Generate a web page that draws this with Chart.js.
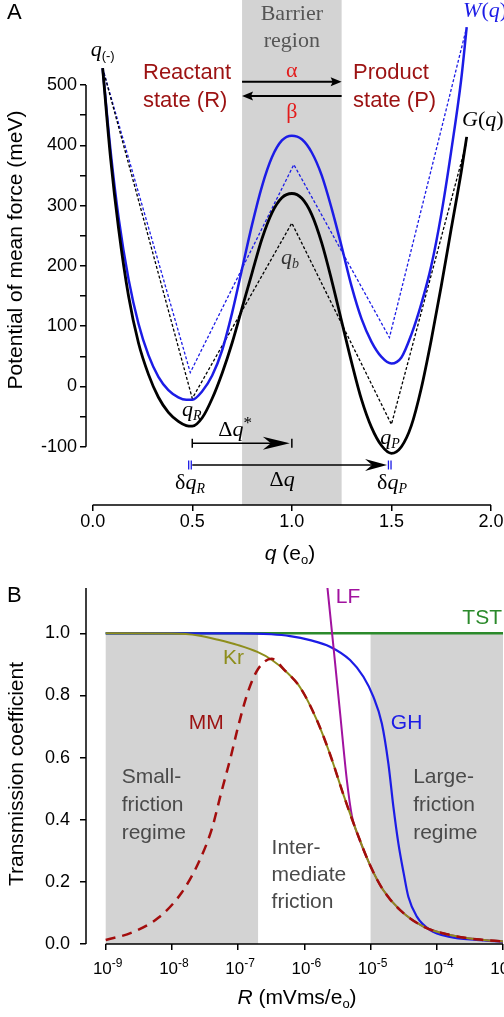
<!DOCTYPE html>
<html><head><meta charset="utf-8">
<script src="https://cdn.jsdelivr.net/npm/chart.js@4"></script>
<style>
html,body{margin:0;padding:0;background:#fff;overflow:hidden;width:504px;height:1017px;position:relative;}
#ca{position:absolute;left:0;top:0;}
#cb{position:absolute;left:0;top:570px;}
</style></head><body>
<canvas id="ca" width="504" height="570"></canvas>
<canvas id="cb" width="560" height="447"></canvas>
<script>
// ---------------- Panel A data ----------------
const qG = [0.05, 0.09, 0.13, 0.18, 0.23, 0.28, 0.33, 0.38, 0.43, 0.47, 0.5, 0.55, 0.6, 0.65, 0.7, 0.75, 0.8, 0.85, 0.9, 0.95, 1.0, 1.05, 1.1, 1.15, 1.2, 1.25, 1.3, 1.35, 1.4, 1.45, 1.5, 1.55, 1.6, 1.65, 1.7, 1.75, 1.8, 1.85, 1.878];
const G  = [528, 378, 262, 150, 72, 20, -18, -43, -58, -65, -66, -52, -20, 22, 72, 130, 188, 245, 288, 313, 320, 312, 285, 238, 176, 108, 40, -22, -68, -98, -111, -100, -65, -3, 77, 166, 261, 355, 414];
const qW = [0.05, 0.09, 0.13, 0.18, 0.23, 0.28, 0.33, 0.38, 0.43, 0.47, 0.5, 0.55, 0.6, 0.65, 0.7, 0.75, 0.8, 0.85, 0.9, 0.95, 1.0, 1.05, 1.1, 1.15, 1.2, 1.25, 1.3, 1.35, 1.4, 1.45, 1.5, 1.55, 1.6, 1.65, 1.7, 1.75, 1.8, 1.85, 1.878];
const W  = [528, 390, 280, 178, 104, 52, 16, -6, -18, -22, -22, -8, 18, 60, 122, 195, 268, 332, 380, 408, 416, 410, 388, 350, 295, 232, 166, 112, 74, 49, 38, 48, 86, 137, 200, 285, 390, 508, 596];
const qGd = [0.05, 0.5, 1.0, 1.5, 1.875];
const Gd  = [528, -20, 271, -63, 402];
const qWd = [0.05, 0.49, 1.01, 1.49, 1.875];
const Wd  = [528, 23, 368, 81, 592];
const qTicks = [0, 0.5, 1.0, 1.5, 2.0];
const pmfTicks = [-100, -50, 0, 50, 100, 150, 200, 250, 300, 350, 400, 450, 500];
const barrier = [0.75, 1.25];

// ---------------- Panel B data ----------------
const R_GH = [1e-9, 1e-7, 3.16e-7, 6.1e-7, 1.22e-6, 2.44e-6, 4.9e-6, 7.8e-6, 1.1e-5, 1.48e-5, 1.86e-5, 2.21e-5, 2.63e-5, 3.16e-5, 3.72e-5, 5.0e-5, 7.9e-5, 1.58e-4, 3.98e-4, 1e-3];
const GH   = [1.0, 1.0, 0.997, 0.991, 0.978, 0.957, 0.914, 0.86, 0.796, 0.71, 0.58, 0.442, 0.324, 0.228, 0.152, 0.088, 0.045, 0.023, 0.013, 0.007];
const R_Kr = [1e-9, 1e-8, 2.5e-8, 5e-8, 1e-7, 1.95e-7, 3.2e-7, 5.1e-7, 8.7e-7, 1.55e-6, 2.45e-6, 3.9e-6, 6.2e-6, 1e-5, 1.55e-5, 2.8e-5, 6.3e-5, 1.58e-4, 4e-4, 1e-3];
const Kr   = [1.0, 0.999, 0.993, 0.979, 0.962, 0.94, 0.915, 0.88, 0.825, 0.72, 0.61, 0.48, 0.36, 0.25, 0.174, 0.109, 0.056, 0.029, 0.015, 0.008];
const R_MM = [1e-9, 2.5e-9, 6.3e-9, 1.4e-8, 2.5e-8, 4e-8, 5.6e-8, 7.9e-8, 1e-7, 1.4e-7, 2e-7, 3.2e-7, 5.1e-7, 8.7e-7, 1.55e-6, 2.45e-6, 3.9e-6, 6.2e-6, 1e-5, 1.55e-5, 2.8e-5, 6.3e-5, 1.58e-4, 4e-4, 1e-3];
const MM   = [0.013, 0.037, 0.085, 0.165, 0.26, 0.37, 0.49, 0.61, 0.70, 0.81, 0.885, 0.918, 0.88, 0.825, 0.72, 0.61, 0.48, 0.36, 0.25, 0.174, 0.109, 0.056, 0.029, 0.015, 0.008];
const R_LF = [2.2e-6, 2.75e-6, 3.47e-6, 4.37e-6, 5.25e-6, 6.3e-6, 1e-5, 1.55e-5, 2.8e-5, 6.3e-5, 1.58e-4, 4e-4, 1e-3];
const LF   = [1.16, 0.957, 0.742, 0.53, 0.41, 0.355, 0.25, 0.174, 0.109, 0.056, 0.029, 0.015, 0.008];
const R_TST = [1e-9, 1e-3];
const TST   = [1.0, 1.0];
const rTicks = [1e-9, 1e-8, 1e-7, 1e-6, 1e-5, 1e-4, 1e-3];
const rTickExp = ['-9', '-8', '-7', '-6', '-5', '-4', '-3'];
const kTicks = [0, 0.2, 0.4, 0.6, 0.8, 1.0];
const smallRegime = [1e-9, 2e-7];
const largeRegime = [1e-5, 1e-3];

// ---------------- styles ----------------
const SANS = '"Liberation Sans", Arial, sans-serif';
const SERIF = '"Liberation Serif", "Times New Roman", serif';
const BLUE = '#1c1ce6';
const DRED = '#9c1212';
const RED = '#e31b1b';
const GRAYTXT = '#4a4a4a';
Chart.defaults.font.family = SANS;
Chart.defaults.color = '#000';

const pts = (xs, ys) => xs.map((x, i) => ({x: x, y: ys[i]}));
const zeroPad = s => { s.paddingLeft = 0; s.paddingRight = 0; s.paddingTop = 0; s.paddingBottom = 0; };
const f = (size, fam, style) => (style ? style + ' ' : '') + size + 'px ' + fam;

function rich(ctx, x, y, parts, align) {
  let w = 0;
  const ws = parts.map(p => { ctx.font = p[1]; const m = ctx.measureText(p[0]).width; w += m; return m; });
  let cx = align === 'left' ? x : align === 'right' ? x - w : x - w / 2;
  ctx.textAlign = 'left';
  ctx.textBaseline = 'alphabetic';
  parts.forEach((p, i) => { ctx.font = p[1]; ctx.fillStyle = p[2]; ctx.fillText(p[0], cx, y + (p[3] || 0)); cx += ws[i]; });
}
function plain(ctx, txt, x, y, font, color, align) {
  ctx.font = font; ctx.fillStyle = color; ctx.textAlign = align || 'center'; ctx.textBaseline = 'middle';
  ctx.fillText(txt, x, y);
}
function head(ctx, tx, ty, dir, len, hw, notch) {
  ctx.beginPath();
  ctx.moveTo(tx, ty);
  ctx.lineTo(tx - dir * len, ty - hw);
  ctx.lineTo(tx - dir * notch, ty);
  ctx.lineTo(tx - dir * len, ty + hw);
  ctx.closePath();
  ctx.fill();
}
function vrot(ctx, txt, x, y, font) {
  ctx.save(); ctx.translate(x, y); ctx.rotate(-Math.PI / 2);
  ctx.font = font; ctx.fillStyle = '#000'; ctx.textAlign = 'center'; ctx.textBaseline = 'middle';
  ctx.fillText(txt, 0, 0); ctx.restore();
}

// ---------------- Panel A ----------------
const annotA = {
  id: 'annotA',
  beforeDatasetsDraw(c) {
    const {ctx, chartArea: a, scales: {x}} = c;
    ctx.save();
    ctx.fillStyle = '#d3d3d3';
    const x0 = x.getPixelForValue(barrier[0]), x1 = x.getPixelForValue(barrier[1]);
    ctx.fillRect(x0, 0, x1 - x0, a.bottom);
    ctx.restore();
  },
  afterDraw(c) {
    const {ctx, chartArea: a, scales: {x, y}} = c;
    const X = v => x.getPixelForValue(v), Y = v => y.getPixelForValue(v);
    ctx.save();
    ctx.strokeStyle = '#000'; ctx.lineWidth = 1.5;
    ctx.beginPath();
    ctx.moveTo(a.left, Y(pmfTicks[pmfTicks.length - 1])); ctx.lineTo(a.left, Y(pmfTicks[0]));
    ctx.moveTo(X(qTicks[0]), a.bottom); ctx.lineTo(X(qTicks[qTicks.length - 1]), a.bottom);
    ctx.stroke();

    plain(ctx, 'A', 7, 13, f(22, SANS), '#000', 'left');
    plain(ctx, 'Barrier', X(1.0), Y(617.8), f(22, SERIF), '#555', 'center');
    plain(ctx, 'region', X(1.0), Y(573), f(22, SERIF), '#555', 'center');
    plain(ctx, 'Reactant', X(0.2526), Y(519.9), f(22, SANS), DRED, 'left');
    plain(ctx, 'state (R)', X(0.2526), Y(473.5), f(22, SANS), DRED, 'left');
    plain(ctx, 'Product', X(1.3074), Y(519.9), f(22, SANS), DRED, 'left');
    plain(ctx, 'state (P)', X(1.3074), Y(473.5), f(22, SANS), DRED, 'left');
    plain(ctx, 'α', X(1.0), Y(523.2), f(22, SERIF), RED, 'center');
    plain(ctx, 'β', X(1.0), Y(455.2), f(22, SERIF), RED, 'center');
    ctx.fillStyle = '#000'; ctx.strokeStyle = '#000'; ctx.lineWidth = 2;
    let ya = Y(505.5), yb = Y(481.8);
    ctx.beginPath();
    ctx.moveTo(X(0.75), ya); ctx.lineTo(X(1.25) - 6, ya);
    ctx.moveTo(X(1.25), yb); ctx.lineTo(X(0.75) + 6, yb);
    ctx.stroke();
    head(ctx, X(1.25), ya, 1, 11, 4.5, 9);
    head(ctx, X(0.75), yb, -1, 11, 4.5, 9);

    const q22 = f(22, SERIF, 'italic'), s14 = f(14, SERIF, 'italic'), up22 = f(22, SERIF);
    rich(ctx, X(-0.01), Y(548), [['q', q22, '#000'], ['(-)', f(13, SANS), '#000', 4]], 'left');
    rich(ctx, X(1.86), Y(612.8), [['W', q22, BLUE], ['(', up22, BLUE], ['q', q22, BLUE], [')', up22, BLUE]], 'left');
    rich(ctx, X(1.855), Y(432), [['G', q22, '#000'], ['(', up22, '#000'], ['q', q22, '#000'], [')', up22, '#000']], 'left');
    rich(ctx, X(0.991), Y(203), [['q', q22, '#333'], ['b', s14, '#333', 4]], 'center');
    rich(ctx, X(0.497), Y(-48.4), [['q', q22, '#000'], ['R', s14, '#000', 4]], 'center');
    rich(ctx, X(1.493), Y(-95.6), [['q', q22, '#000'], ['P', s14, '#000', 4]], 'center');
    rich(ctx, X(0.715), Y(-82.3), [['Δ', up22, '#000'], ['q', q22, '#000'], ['*', f(17, SERIF), '#000', -8]], 'center');
    rich(ctx, X(0.951), Y(-165.2), [['Δ', up22, '#000'], ['q', q22, '#000']], 'center');
    rich(ctx, X(0.489), Y(-170.2), [['δ', up22, '#000'], ['q', q22, '#000'], ['R', s14, '#000', 4]], 'center');
    rich(ctx, X(1.503), Y(-170.2), [['δ', up22, '#000'], ['q', q22, '#000'], ['P', s14, '#000', 4]], 'center');

    ctx.lineWidth = 1.5; ctx.strokeStyle = '#000'; ctx.fillStyle = '#000';
    const ys = Y(-94.4);
    ctx.beginPath();
    ctx.moveTo(X(0.5), ys); ctx.lineTo(X(1.0) - 10, ys);
    ctx.moveTo(X(0.5), ys - 4.5); ctx.lineTo(X(0.5), ys + 4.5);
    ctx.moveTo(X(1.0), ys - 4.5); ctx.lineTo(X(1.0), ys + 4.5);
    ctx.stroke();
    head(ctx, X(1.0) - 2, ys, 1, 27, 6.5, 19);
    const yd = Y(-130.4);
    ctx.beginPath();
    ctx.moveTo(X(0.5), yd); ctx.lineTo(X(1.478) - 10, yd);
    ctx.stroke();
    head(ctx, X(1.478), yd, 1, 22, 6, 15);
    ctx.strokeStyle = BLUE; ctx.lineWidth = 1.3;
    ctx.beginPath();
    [0.482, 0.495, 1.485, 1.498].forEach(q => { ctx.moveTo(X(q), yd - 4.5); ctx.lineTo(X(q), yd + 4.5); });
    ctx.stroke();

    vrot(ctx, 'Potential of mean force (meV)', 16, 250, f(21, SANS));
    rich(ctx, 290, 560, [['q', f(21, SANS, 'italic'), '#000'], [' (e', f(21, SANS), '#000'], ['o', f(13, SANS), '#000', 4], [')', f(21, SANS), '#000']], 'center');
    ctx.restore();
  }
};

new Chart(document.getElementById('ca'), {
  type: 'scatter',
  data: {
    datasets: [
      {data: pts(qG, G), showLine: true, borderColor: '#000', borderWidth: 2.8, pointRadius: 0, cubicInterpolationMode: 'monotone', order: 0},
      {data: pts(qW, W), showLine: true, borderColor: BLUE, borderWidth: 2.5, pointRadius: 0, cubicInterpolationMode: 'monotone', order: 1},
      {data: pts(qGd, Gd), showLine: true, borderColor: '#000', borderWidth: 1.3, borderDash: [3, 2], pointRadius: 0, order: 2},
      {data: pts(qWd, Wd), showLine: true, borderColor: BLUE, borderWidth: 1.3, borderDash: [3, 2], pointRadius: 0, order: 3}
    ]
  },
  options: {
    responsive: false, animation: false, events: [],
    layout: {padding: {left: 0, right: 13, top: 0, bottom: 0}},
    plugins: {legend: {display: false}, tooltip: {enabled: false}},
    scales: {
      x: {
        type: 'linear', min: -0.0336, max: 2.0,
        afterBuildTicks: s => { s.ticks = qTicks.map(v => ({value: v})); },
        afterFit: s => { s.height = 65; zeroPad(s); },
        border: {display: false},
        grid: {drawOnChartArea: false, drawTicks: true, tickLength: 6, color: '#000', lineWidth: 1.5},
        ticks: {autoSkip: false, maxRotation: 0, padding: 0, font: {size: 18}, color: '#000', callback: v => Number(v).toFixed(1)}
      },
      y: {
        type: 'linear', min: -196.7, max: 641,
        afterBuildTicks: s => { s.ticks = pmfTicks.map(v => ({value: v})); },
        afterFit: s => { s.width = 86; zeroPad(s); },
        border: {display: false},
        grid: {drawOnChartArea: false, drawTicks: true, tickLength: 6, color: '#000', lineWidth: 1.5},
        ticks: {autoSkip: false, padding: 3, font: {size: 18}, color: '#000', callback: v => (v % 100 === 0 ? String(v) : '')}
      }
    }
  },
  plugins: [annotA]
});

// ---------------- Panel B ----------------
const annotB = {
  id: 'annotB',
  beforeDatasetsDraw(c) {
    const {ctx, scales: {x, y}} = c;
    ctx.save();
    ctx.fillStyle = '#d3d3d3';
    [smallRegime, largeRegime].forEach(r => {
      const x0 = x.getPixelForValue(r[0]), x1 = x.getPixelForValue(r[1]);
      const y0 = y.getPixelForValue(1.0), y1 = y.getPixelForValue(0);
      ctx.fillRect(x0, y0, x1 - x0, y1 - y0);
    });
    ctx.restore();
  },
  afterDraw(c) {
    const {ctx, chartArea: a, scales: {x, y}} = c;
    const X = v => x.getPixelForValue(v), Y = v => y.getPixelForValue(v);
    ctx.save();
    ctx.strokeStyle = '#000'; ctx.lineWidth = 1.5;
    ctx.beginPath();
    ctx.moveTo(a.left, a.top); ctx.lineTo(a.left, Y(0));
    ctx.moveTo(X(rTicks[0]), a.bottom); ctx.lineTo(X(rTicks[rTicks.length - 1]), a.bottom);
    ctx.stroke();
    rTicks.forEach((v, i) => {
      rich(ctx, X(v) + 2, a.bottom + 30, [['10', f(17, SANS), '#000'], [rTickExp[i], f(12, SANS), '#000', -7]], 'center');
    });
    plain(ctx, 'B', 7, 26, f(22, SANS), '#000', 'left');
    const L = f(21, SANS);
    plain(ctx, 'LF', 348, 27, L, '#a1129f', 'center');
    plain(ctx, 'TST', 502, 48, L, '#2b8a2b', 'right');
    plain(ctx, 'Kr', X(8.5e-8), Y(0.92), L, '#8e8e1c', 'center');
    plain(ctx, 'MM', X(3.3e-8), Y(0.711), L, DRED, 'center');
    plain(ctx, 'GH', X(3.5e-5), Y(0.711), L, BLUE, 'center');
    const lines = (arr, xv, yv) => arr.forEach((t, i) => plain(ctx, t, X(xv), Y(yv[i]), L, GRAYTXT, 'left'));
    lines(['Small-', 'friction', 'regime'], 1.74e-9, [0.5375, 0.4474, 0.3573]);
    lines(['Inter-', 'mediate', 'friction'], 3.2e-7, [0.309, 0.222, 0.135]);
    lines(['Large-', 'friction', 'regime'], 4.4e-5, [0.5375, 0.4474, 0.3573]);
    vrot(ctx, 'Transmission coefficient', 17, 204, f(21, SANS));
    rich(ctx, 297, 434, [['R', f(21, SANS, 'italic'), '#000'], [' (mVms/e', f(21, SANS), '#000'], ['o', f(13, SANS), '#000', 4], [')', f(21, SANS), '#000']], 'center');
    ctx.restore();
  }
};

new Chart(document.getElementById('cb'), {
  type: 'scatter',
  data: {
    datasets: [
      {data: pts(R_MM, MM), showLine: true, borderColor: '#a30d0d', borderWidth: 2.5, borderDash: [10, 7], pointRadius: 0, cubicInterpolationMode: 'monotone', order: 0},
      {data: pts(R_Kr, Kr), showLine: true, borderColor: '#8e8e1c', borderWidth: 2, pointRadius: 0, cubicInterpolationMode: 'monotone', order: 1},
      {data: pts(R_LF, LF), showLine: true, borderColor: '#a1129f', borderWidth: 2, pointRadius: 0, cubicInterpolationMode: 'monotone', order: 2},
      {data: pts(R_GH, GH), showLine: true, borderColor: BLUE, borderWidth: 2.2, pointRadius: 0, cubicInterpolationMode: 'monotone', order: 3},
      {data: pts(R_TST, TST), showLine: true, borderColor: '#2b8a2b', borderWidth: 2.5, pointRadius: 0, order: 4}
    ]
  },
  options: {
    responsive: false, animation: false, events: [],
    layout: {padding: {left: 0, right: 57, top: 18, bottom: 0}},
    plugins: {legend: {display: false}, tooltip: {enabled: false}},
    scales: {
      x: {
        type: 'logarithmic', min: 5.04e-10, max: 1e-3,
        afterBuildTicks: s => { s.ticks = rTicks.map(v => ({value: v})); },
        afterFit: s => { s.height = 73; zeroPad(s); },
        border: {display: false},
        grid: {drawOnChartArea: false, drawTicks: true, tickLength: 6, color: '#000', lineWidth: 1.5},
        ticks: {autoSkip: false, maxRotation: 0, font: {size: 17}, callback: () => ''}
      },
      y: {
        type: 'linear', min: 0, max: 1.1458,
        afterBuildTicks: s => { s.ticks = kTicks.map(v => ({value: v})); },
        afterFit: s => { s.width = 86; zeroPad(s); },
        border: {display: false},
        grid: {drawOnChartArea: false, drawTicks: true, tickLength: 6, color: '#000', lineWidth: 1.5},
        ticks: {autoSkip: false, padding: 10, font: {size: 18}, color: '#000', callback: v => Number(v).toFixed(1)}
      }
    }
  },
  plugins: [annotB]
});
</script>
</body></html>
